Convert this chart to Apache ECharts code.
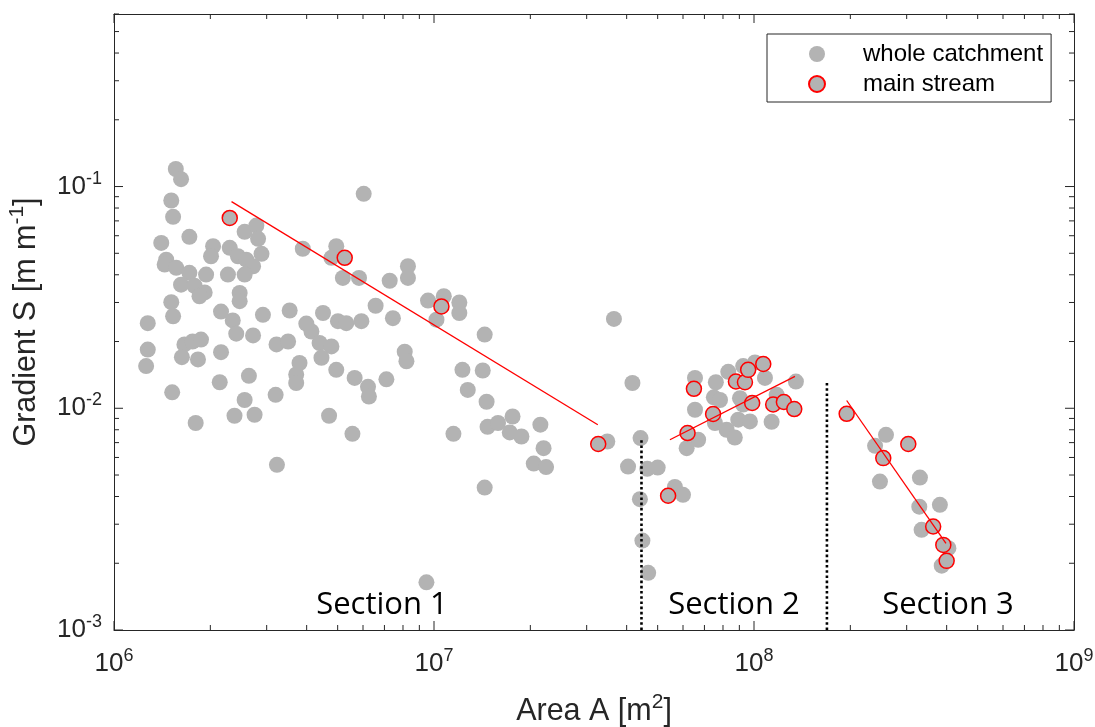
<!DOCTYPE html>
<html>
<head>
<meta charset="utf-8">
<script src="https://cdn.jsdelivr.net/npm/echarts@6/dist/echarts.min.js"></script>
<style>
  html, body { margin: 0; padding: 0; background: #fff; }
  #chart { width: 1095px; height: 727px; }
</style>
</head>
<body>
<div id="chart"></div>
<script>
// Drainage area vs. channel gradient for every cell of the catchment
const catchmentArea = [
  1.56e6, 1.62e6, 1.51e6, 1.53e6, 1.72e6, 1.405e6, 2.56e6, 2.785e6, 2.82e6, 2.04e6,
  2.01e6, 2.30e6, 2.44e6, 2.59e6, 2.89e6, 2.72e6, 1.456e6, 1.44e6, 1.565e6, 1.72e6,
  1.94e6, 2.27e6, 2.56e6, 1.62e6, 1.785e6, 1.92e6, 1.85e6, 2.47e6, 2.47e6, 1.51e6,
  3.89e6, 2.16e6, 3.54e6, 2.92e6, 1.53e6, 1.275e6, 2.35e6, 2.41e6, 2.72e6, 3.99e6,
  1.275e6, 1.26e6, 1.66e6, 1.76e6, 1.87e6, 1.63e6, 1.83e6, 2.16e6, 3.22e6, 3.50e6,
  3.80e6, 3.71e6, 3.71e6, 2.14e6, 2.64e6, 1.52e6, 2.56e6, 2.38e6, 2.75e6, 3.20e6,
  1.80e6, 3.23e6, 6.03e6, 4.95e6, 4.78e6, 5.19e6, 5.83e6, 7.27e6, 8.29e6, 8.29e6,
  9.58e6, 1.073e7, 1.20e7, 1.20e7, 6.57e6, 4.50e6, 7.44e6, 1.018e7, 4.14e6, 5.01e6,
  5.32e6, 5.93e6, 4.39e6, 4.78e6, 4.45e6, 8.10e6, 8.20e6, 4.95e6, 5.65e6, 6.22e6,
  6.26e6, 7.10e6, 1.44e7, 1.227e7, 1.42e7, 1.275e7, 1.46e7, 1.47e7, 4.70e6, 5.56e6,
  1.15e7, 3.65e7, 4.17e7, 1.585e7, 1.76e7, 1.725e7, 1.876e7, 2.15e7, 2.20e7, 2.05e7,
  2.24e7, 3.48e7, 4.42e7, 4.04e7, 4.64e7, 5.00e7, 1.44e7, 4.40e7, 4.48e7, 4.67e7,
  9.47e6, 6.54e7, 7.60e7, 8.31e7, 9.25e7, 1.007e8, 1.082e8, 1.352e8, 7.49e7, 7.83e7,
  6.54e7, 9.04e7, 9.25e7, 1.177e8, 8.93e7, 9.71e7, 1.135e8, 7.55e7, 8.21e7, 8.71e7,
  6.69e7, 6.16e7, 5.66e7, 6.00e7, 2.585e8, 2.39e8, 2.475e8, 3.30e8, 3.285e8, 3.81e8,
  3.34e8, 4.05e8, 3.86e8
];
const catchmentSlope = [
  0.120, 0.108, 0.0865, 0.0730, 0.0593, 0.0557, 0.0625, 0.0667, 0.0581, 0.0538,
  0.0485, 0.0529, 0.0485, 0.0468, 0.0497, 0.0437, 0.0468, 0.0445, 0.0430, 0.0408,
  0.0401, 0.0401, 0.0401, 0.0361, 0.0357, 0.0333, 0.0320, 0.0331, 0.0304, 0.0301,
  0.0524, 0.0273, 0.0276, 0.0264, 0.0260, 0.0242, 0.0249, 0.0217, 0.0213, 0.0241,
  0.0184, 0.0155, 0.0194, 0.0200, 0.0204, 0.0170, 0.0166, 0.0179, 0.0194, 0.0200,
  0.0160, 0.0142, 0.0130, 0.0131, 0.0140, 0.0118, 0.0109, 0.00925, 0.00935, 0.0115,
  0.00858, 0.00556, 0.0927, 0.0538, 0.0477, 0.0387, 0.0387, 0.0376, 0.0437, 0.0387,
  0.0306, 0.0320, 0.0300, 0.0269, 0.0290, 0.0269, 0.0255, 0.0251, 0.0222, 0.0247,
  0.0242, 0.0247, 0.0197, 0.0190, 0.0169, 0.0180, 0.0163, 0.0149, 0.0137, 0.0125,
  0.0113, 0.0135, 0.0215, 0.0149, 0.0148, 0.0121, 0.0107, 0.00825, 0.00925, 0.00767,
  0.00767, 0.0253, 0.0130, 0.00858, 0.00918, 0.00778, 0.00746, 0.00843, 0.00661, 0.00563,
  0.00543, 0.00708, 0.00734, 0.00546, 0.00533, 0.0054, 0.00439, 0.00389, 0.00253, 0.00181,
  0.00164, 0.0137, 0.0131, 0.0146, 0.0155, 0.0161, 0.0137, 0.0132, 0.0112, 0.0109,
  0.00985, 0.0111, 0.0104, 0.0115, 0.00888, 0.00872, 0.00869, 0.00858, 0.0080, 0.00738,
  0.00721, 0.00661, 0.00442, 0.00407, 0.00759, 0.00677, 0.00467, 0.00487, 0.0036, 0.00367,
  0.00283, 0.00234, 0.00195
];

// Cells along the main stream
const streamArea = [
  2.30e6, 5.26e6, 1.055e7, 3.26e7,
  5.39e7, 6.20e7, 6.49e7, 7.45e7, 8.78e7, 9.37e7, 9.59e7, 1.069e8, 9.87e7, 1.148e8, 1.24e8, 1.336e8,
  1.948e8, 2.535e8, 3.035e8, 3.63e8, 3.905e8, 4.00e8
];
const streamSlope = [
  0.0722, 0.0477, 0.0288, 0.00690,
  0.00403, 0.00773, 0.01224, 0.00942, 0.0132, 0.0131, 0.0149, 0.01584, 0.01056, 0.0104, 0.01067, 0.00992,
  0.00944, 0.00596, 0.00690, 0.00293, 0.00242, 0.00205
];

// Power-law fits for each section (end points)
const fit1Area = [2.33e6, 3.25e7];
const fit1Slope = [0.0855, 0.00843];
const fit2Area = [5.46e7, 1.343e8];
const fit2Slope = [0.00721, 0.01393];
const fit3Area = [1.948e8, 3.98e8];
const fit3Slope = [0.01084, 0.00246];

// Section boundaries (knickpoints)
const breakArea = [4.45e7, 1.69e8];
const breakTop = [0.00726, 0.0132];
const sectionNames = ['Section 1', 'Section 2', 'Section 3'];

// Axis ranges and decade ticks
const xRange = [1e6, 1e9];
const yRange = [1e-3, 0.6];
const xDecades = [1e6, 1e7, 1e8, 1e9];
const yDecades = [1e-3, 1e-2, 1e-1];
const minorMantissas = [2, 3, 4, 5, 6, 7, 8, 9];

const AXIS_COLOR = '#262626';
const GRAY = '#b3b3b3';
const RED = '#ff0000';
const FONT = '"Liberation Sans", Arial, sans-serif';

function zip(a, b) { return a.map((v, i) => [v, b[i]]); }

// tick list: [x, y, axis(0=x,1=y), major(1/0)]
const tickData = [];
xDecades.forEach(d => {
  tickData.push([d, yRange[0], 0, 1]);
  minorMantissas.forEach(m => { const v = d * m; if (v < xRange[1]) tickData.push([v, yRange[0], 0, 0]); });
});
yDecades.forEach(d => {
  tickData.push([xRange[0], d, 1, 1]);
  minorMantissas.forEach(m => { const v = d * m; if (v <= yRange[1] + 1e-12) tickData.push([xRange[0], v, 1, 0]); });
});

function expLabel(v) {
  const e = Math.round(Math.log10(v));
  if (Math.abs(Math.pow(10, e) - v) / v > 1e-6) return '';
  return '{b|10}{s|' + e + '}';
}

const tickRich = {
  b: { fontFamily: FONT, fontSize: 26, lineHeight: 34, color: AXIS_COLOR },
  s: { fontFamily: FONT, fontSize: 18, lineHeight: 18, color: AXIS_COLOR, verticalAlign: 'top' }
};
const nameRich = {
  s: { fontFamily: FONT, fontSize: 21, lineHeight: 21, color: AXIS_COLOR, verticalAlign: 'top' }
};

const chart = echarts.init(document.getElementById('chart'), null, { renderer: 'canvas' });

const lineBase = { type: 'line', showSymbol: false, symbol: 'none', silent: true, z: 5 };

const option = {
  animation: false,
  backgroundColor: '#fff',
  grid: { left: 114, right: 21, top: 14, bottom: 97, containLabel: false, outerBoundsMode: 'none' },
  xAxis: [
    {
      type: 'log', logBase: 10, min: xRange[0], max: xRange[1],
      name: 'Area A [m{s|2}]', nameLocation: 'middle', nameGap: 62,
      nameTextStyle: { fontFamily: FONT, fontSize: 30.5, lineHeight: 39, color: AXIS_COLOR, rich: nameRich },
      axisLine: { show: true, lineStyle: { color: AXIS_COLOR, width: 1 } },
      axisTick: { show: false }, minorTick: { show: false },
      splitLine: { show: false },
      axisLabel: { margin: 17, formatter: expLabel, rich: tickRich }
    },
    {
      type: 'log', logBase: 10, min: xRange[0], max: xRange[1], position: 'top',
      axisLine: { show: true, lineStyle: { color: AXIS_COLOR, width: 1 } },
      axisTick: { show: false }, axisLabel: { show: false }, splitLine: { show: false }
    }
  ],
  yAxis: [
    {
      type: 'log', logBase: 10, min: yRange[0], max: yRange[1],
      name: 'Gradient S [m m{s|-1}]', nameLocation: 'middle', nameGap: 64,
      nameTextStyle: { fontFamily: FONT, fontSize: 30.5, lineHeight: 39, color: AXIS_COLOR, rich: nameRich },
      axisLine: { show: true, lineStyle: { color: AXIS_COLOR, width: 1 } },
      axisTick: { show: false }, minorTick: { show: false },
      splitLine: { show: false },
      axisLabel: { margin: 12, formatter: expLabel, rich: tickRich }
    },
    {
      type: 'log', logBase: 10, min: yRange[0], max: yRange[1], position: 'right',
      axisLine: { show: true, lineStyle: { color: AXIS_COLOR, width: 1 } },
      axisTick: { show: false }, axisLabel: { show: false }, splitLine: { show: false }
    }
  ],
  legend: {
    data: ['whole catchment', 'main stream'],
    orient: 'vertical', left: 767, top: 34,
    padding: [8, 8, 6, 41], itemWidth: 82, itemHeight: 16, itemGap: 6,
    backgroundColor: '#fff', borderColor: AXIS_COLOR, borderWidth: 1,
    textStyle: { fontFamily: FONT, fontSize: 24, color: '#000' },
    selectedMode: false
  },
  graphic: sectionNames.map((t, i) => ({
    type: 'text',
    x: [382, 734, 948][i], y: 605,
    style: { text: t, fontFamily: '"Open Sans", sans-serif', fontSize: 31, fill: '#000', align: 'center', verticalAlign: 'middle' },
    z: 10
  })),
  series: [
    {
      name: 'whole catchment', type: 'scatter', symbol: 'circle', symbolSize: 16,
      itemStyle: { color: GRAY, opacity: 1 }, z: 2,
      data: zip(catchmentArea, catchmentSlope)
    },
    {
      name: 'main stream', type: 'scatter', symbol: 'circle', symbolSize: 15,
      itemStyle: { color: GRAY, borderColor: RED, borderWidth: 1.5, opacity: 1 }, z: 3,
      data: zip(streamArea, streamSlope)
    },
    Object.assign({}, lineBase, { name: 'fit 1', data: zip(fit1Area, fit1Slope), lineStyle: { color: RED, width: 1.3 } }),
    Object.assign({}, lineBase, { name: 'fit 2', data: zip(fit2Area, fit2Slope), lineStyle: { color: RED, width: 1.3 } }),
    Object.assign({}, lineBase, { name: 'fit 3', data: zip(fit3Area, fit3Slope), lineStyle: { color: RED, width: 1.3 } }),
    ...breakArea.map((a, i) => Object.assign({}, lineBase, {
      name: 'break ' + (i + 1),
      data: [[a, yRange[0]], [a, breakTop[i]]],
      lineStyle: { color: '#000', width: 2.6, type: [2.6, 2.6], cap: 'butt' }, z: 6
    })),
    {
      name: 'ticks', type: 'custom', silent: true, clip: false, z: 7,
      data: tickData,
      renderItem: function (params, api) {
        const cs = params.coordSys;
        const isX = api.value(2) === 0;
        const len = api.value(3) ? 9 : 5;
        const st = { stroke: AXIS_COLOR, lineWidth: 1 };
        if (isX) {
          const px = api.coord([api.value(0), yRange[0]])[0];
          const yb = cs.y + cs.height, yt = cs.y;
          return { type: 'group', children: [
            { type: 'line', shape: { x1: px, y1: yb, x2: px, y2: yb - len }, style: st },
            { type: 'line', shape: { x1: px, y1: yt, x2: px, y2: yt + len }, style: st }
          ] };
        }
        const py = api.coord([xRange[0], api.value(1)])[1];
        const xl = cs.x, xr = cs.x + cs.width;
        return { type: 'group', children: [
          { type: 'line', shape: { x1: xl, y1: py, x2: xl + len, y2: py }, style: st },
          { type: 'line', shape: { x1: xr, y1: py, x2: xr - len, y2: py }, style: st }
        ] };
      }
    }
  ]
};

chart.setOption(option);
</script>
</body>
</html>
